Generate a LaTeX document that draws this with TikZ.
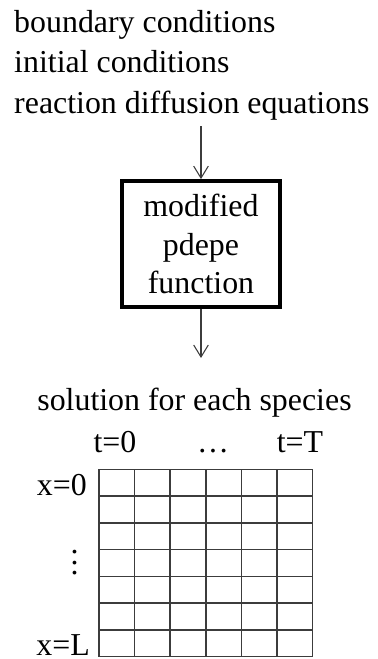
\documentclass[tikz,border=0pt]{standalone}
\usepackage{fontspec}
\setmainfont{Liberation Serif}
\usetikzlibrary{arrows.meta, positioning}
\definecolor{cline}{HTML}{3C3C3C}
\tikzset{
  every picture/.style={font=\fontsize{24}{30}\selectfont},
  label/.style={inner sep=0pt},
  block/.style={draw=black, line width=3pt, align=center, inner sep=0pt,
    minimum width=4.18cm, minimum height=3.33cm, font=\fontsize{24}{29}\selectfont},
  arrow/.style={-{Straight Barb[length=9pt, width=11pt]}, draw=cline, line width=0.8pt},
  cell/.style={draw=cline, line width=1.1pt},
}

\begin{document}
\begin{tikzpicture}
  \useasboundingbox (0,0) rectangle (9.975,-17.436);
  % inputs
  \node[label, anchor=base west] (bc) at (0.37,-0.873) {boundary conditions};
  \node[label, anchor=base west] (ic) at (0.37,-1.931) {initial conditions};
  \node[label, anchor=base west] (rde) at (0.37,-2.990) {reaction diffusion equations};
  % solver
  \coordinate (in) at (5.318,-3.334);
  \node[block] (pdepe) at (5.318,-6.456) {modified\\pdepe\\function};
  \coordinate (out) at (5.318,-9.472);
  \draw[arrow] (in) -- (pdepe.north);
  \draw[arrow] (pdepe.south) -- (out);
  % output grid
  \node[label, anchor=base] (sol) at (5.146,-10.848) {solution for each species};
  \node[label, anchor=base] (t0) at (3.043,-11.959) {t=0};
  \node[label, anchor=base] (tdots) at (5.636,-11.959) {\ldots};
  \node[label, anchor=base] (tT) at (7.937,-11.959) {t=T};
  \foreach \i in {0,...,6}
    \draw[cell] (2.619+\i*0.9424,-12.417) -- (2.619+\i*0.9424,-17.375);
  \foreach \j in {0,...,7}
    \draw[cell] (2.619,-12.417-\j*0.7083) -- (8.274,-12.417-\j*0.7083);
  \node[label, anchor=base east] (x0) at (2.302,-13.097) {x=0};
  \node[label, align=center, font=\fontsize{24}{8}\selectfont] (xdots) at (1.976,-14.89) {.\\.\\.};
  \node[label, anchor=base east] (xL) at (2.381,-17.34) {x=L};
\end{tikzpicture}
\end{document}
